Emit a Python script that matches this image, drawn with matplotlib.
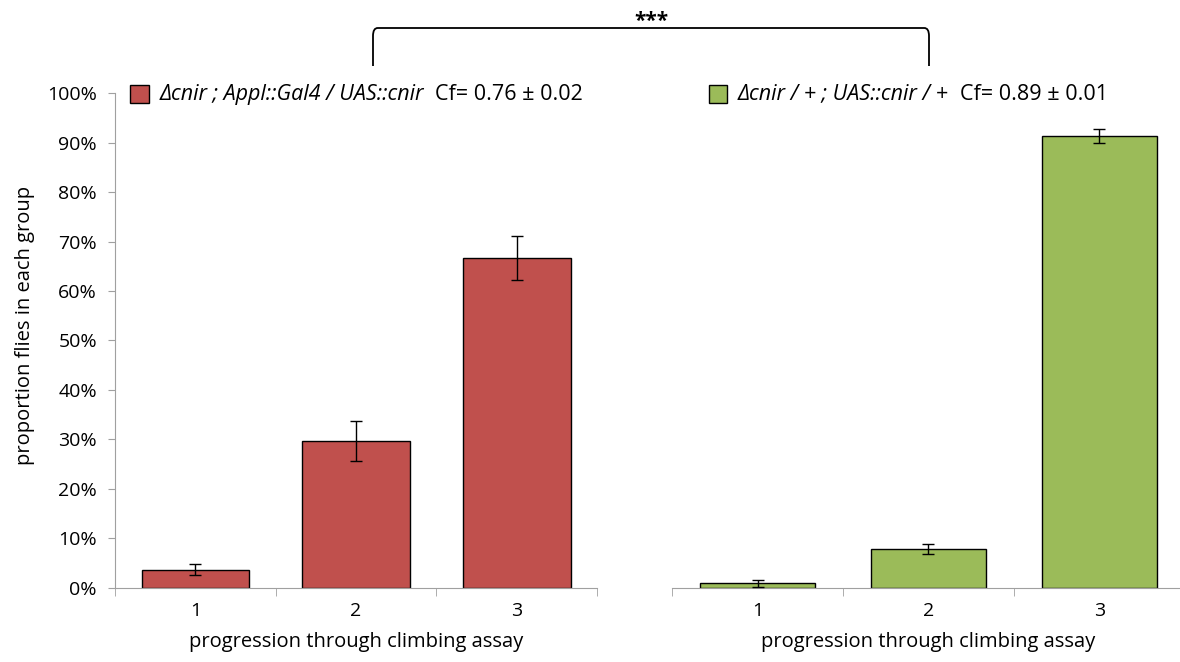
import numpy as np
import matplotlib.pyplot as plt
from matplotlib.path import Path
from matplotlib.patches import PathPatch, Rectangle
from matplotlib.ticker import PercentFormatter

plt.rcParams['font.family'] = ['Open Sans', 'DejaVu Sans']

stages = ['1', '2', '3']

# left group: Δcnir ; Appl::Gal4 / UAS::cnir
rescue_mean = [0.037, 0.297, 0.667]
rescue_sem = [0.011, 0.041, 0.045]

# right group: Δcnir / + ; UAS::cnir / +
ctrl_mean = [0.010, 0.079, 0.913]
ctrl_sem = [0.007, 0.010, 0.014]

rescue_geno = 'Δcnir ; Appl::Gal4 / UAS::cnir'
rescue_cf = 'Cf= 0.76 ± 0.02'
ctrl_geno = 'Δcnir / + ; UAS::cnir / +'
ctrl_cf = 'Cf= 0.89 ± 0.01'

red = '#C0504D'
green = '#9BBB59'
grey = '#A0A0A0'

fig = plt.figure(figsize=(11.8, 6.62), dpi=100)
ax1 = fig.add_axes([0.0975, 0.1118, 0.4085, 0.7477])
ax2 = fig.add_axes([0.5695, 0.1118, 0.4347, 0.7477])

x = np.arange(len(stages))
for ax, mean, sem, col in [(ax1, rescue_mean, rescue_sem, red),
                           (ax2, ctrl_mean, ctrl_sem, green)]:
    ax.bar(x, mean, width=0.67, color=col, edgecolor='black', linewidth=1.0, zorder=2)
    ax.errorbar(x, mean, yerr=sem, fmt='none', ecolor='black', elinewidth=1,
                capsize=4, capthick=1, zorder=3)
    ax.set_xlim(-0.5, 2.5)
    ax.set_ylim(0, 1.0)
    ax.set_xticks(x)
    ax.set_xticklabels(stages, fontsize=14)
    ax.set_xticks(np.arange(-0.5, 3.0, 1.0), minor=True)
    ax.tick_params(axis='x', which='major', length=0, pad=10)
    ax.tick_params(axis='x', which='minor', length=6, color=grey, direction='out')
    ax.set_xlabel('progression through climbing assay', fontsize=14.5, labelpad=9)
    for s in ['top', 'right']:
        ax.spines[s].set_visible(False)
    ax.spines['bottom'].set_color(grey)
    ax.spines['left'].set_color(grey)

ax1.yaxis.set_major_formatter(PercentFormatter(1.0, decimals=0))
ax1.set_yticks(np.arange(0, 1.01, 0.1))
ax1.tick_params(axis='y', length=5, color=grey, labelsize=14, pad=8)
ax1.set_ylabel('proportion flies in each group', fontsize=14.5, labelpad=9)
ax1.yaxis.label.set_y(0.53)

ax2.spines['left'].set_visible(False)
ax2.set_yticks([])

# legend entries: italic genotype followed by the climbing coefficient
renderer = fig.canvas.get_renderer()
for px, geno, cf, col in [(0.1105, rescue_geno, rescue_cf, red),
                          (0.601, ctrl_geno, ctrl_cf, green)]:
    fig.add_artist(Rectangle((px, 0.845), 0.0155, 0.026, transform=fig.transFigure,
                             facecolor=col, edgecolor='black', linewidth=1.0))
    t = fig.text(px + 0.0245, 0.858, geno, fontsize=15.5, style='italic',
                 va='center', ha='left')
    bb = t.get_window_extent(renderer)
    fig.text((bb.x1 + 11) / fig.bbox.width, 0.858, cf, fontsize=15.5,
             va='center', ha='left')

# significance bracket
x0, x1 = 373 / 1180, 929 / 1180
y0, ytop = 1 - 66 / 662, 1 - 28 / 662
r = 0.004
verts = [(x0, y0), (x0, ytop - 0.012), (x0, ytop), (x0 + r, ytop),
         (x1 - r, ytop), (x1, ytop), (x1, ytop - 0.012), (x1, y0)]
codes = [Path.MOVETO, Path.LINETO, Path.CURVE3, Path.CURVE3,
         Path.LINETO, Path.CURVE3, Path.CURVE3, Path.LINETO]
fig.add_artist(PathPatch(Path(verts, codes), transform=fig.transFigure,
                         fill=False, edgecolor='black', linewidth=1.3))
fig.text((x0 + x1) / 2, 1 - 21 / 662, '***', fontsize=15, fontweight='bold',
         ha='center', va='center')

fig.savefig('out.png', dpi=100)
